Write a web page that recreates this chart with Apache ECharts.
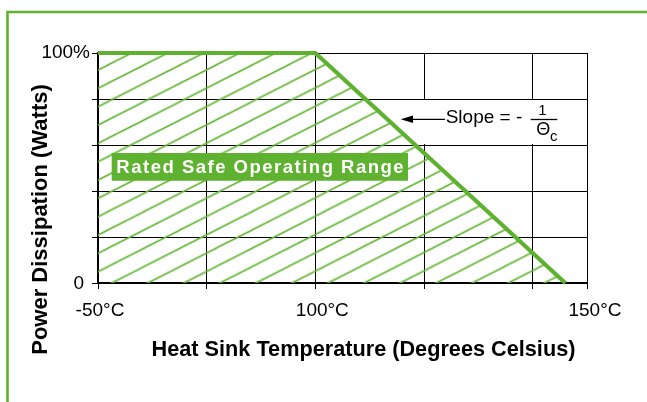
<!DOCTYPE html>
<html><head><meta charset="utf-8">
<script src="https://cdn.jsdelivr.net/npm/echarts@6/dist/echarts.min.js"></script>
<style>html,body{margin:0;padding:0;background:#fff}#c{width:647px;height:402px}</style>
</head><body><div id="c"></div>
<script>
// ---- data ----
const temperatures = [-50, 100, 146];      // °C (heat sink temperature)
const powerPct = [100, 100, 0];            // % of rated power dissipation
const xTickTemps = [-50, 100, 150];
const xTickLabels = ['-50°C', '100°C', '150°C'];
const yTickValues = [0, 100];
const yTickLabels = ['0', '100%'];
const xTitle = 'Heat Sink Temperature (Degrees Celsius)';
const yTitle = 'Power Dissipation (Watts)';
const regionLabel = 'Rated Safe Operating Range';
const slopeText = 'Slope = -';

// the original chart uses a broken temperature scale:
// 75°C per grid cell below 100°C, 20°C per grid cell above it
function tempToPos(t) { return t <= 100 ? (t + 50) / 75 : 2 + (t - 100) / 20; }

const GREEN = '#5fb130';
const HATCH = '#64b636';
const FONT = '"Liberation Sans", Arial, sans-serif';

// slight tracking for the region label, as in the original artwork
const origFillText = CanvasRenderingContext2D.prototype.fillText;
CanvasRenderingContext2D.prototype.fillText = function (t, x, y, w) {
  if (t === regionLabel && 'letterSpacing' in this) {
    const prev = this.letterSpacing;
    this.letterSpacing = '1.5px';
    const r = w === undefined ? origFillText.call(this, t, x + 0.75, y) : origFillText.call(this, t, x + 0.75, y, w);
    this.letterSpacing = prev;
    return r;
  }
  return origFillText.apply(this, arguments);
};

// hatch tile
const tile = document.createElement('canvas');
tile.width = 36; tile.height = 18;
const g = tile.getContext('2d');
g.strokeStyle = HATCH; g.lineWidth = 1.6;
for (let k = -1; k <= 2; k++) {
  g.beginPath(); g.moveTo(-36, 36 + 18 * k); g.lineTo(72, -18 + 18 * k); g.stroke();
}

const xPadStyles = ['xa', 'xb', 'xc'];

const chart = echarts.init(document.getElementById('c'), null, {renderer: 'canvas'});
chart.setOption({
  animation: false,
  backgroundColor: '#fff',
  grid: {left: 98, right: 60, top: 53, bottom: 119},
  xAxis: {
    type: 'value', min: 0, max: tempToPos(150), interval: 1,
    axisLine: {show: true, lineStyle: {color: '#000', width: 2}},
    axisTick: {show: true, length: 6, lineStyle: {color: '#000', width: 1}},
    splitLine: {show: true, lineStyle: {color: '#000', width: 1}},
    axisLabel: {
      margin: 18, color: '#000', fontFamily: FONT, fontSize: 19,
      formatter: function (v) {
        for (let i = 0; i < xTickTemps.length; i++) {
          if (Math.abs(tempToPos(xTickTemps[i]) - v) < 1e-6) return '{' + xPadStyles[i] + '|' + xTickLabels[i] + '}';
        }
        return '';
      },
      rich: {
        xa: {padding: [0, 0, 0, 4], fontSize: 19, fontFamily: FONT, color: '#000'},
        xb: {padding: [0, 0, 0, 14], fontSize: 19, fontFamily: FONT, color: '#000'},
        xc: {padding: [0, 0, 0, 16], fontSize: 19, fontFamily: FONT, color: '#000'}
      }
    }
  },
  yAxis: {
    type: 'value', min: 0, max: 100, interval: 20,
    axisLine: {show: true, lineStyle: {color: '#000', width: 2}},
    axisTick: {show: true, length: 6, lineStyle: {color: '#000', width: 1}},
    splitLine: {show: true, lineStyle: {color: '#000', width: 1}},
    axisLabel: {
      margin: 8, color: '#000', fontFamily: FONT, fontSize: 19,
      formatter: function (v) {
        const i = yTickValues.indexOf(v);
        if (i < 0) return '';
        return i === 0 ? '{z|' + yTickLabels[i] + '}' : yTickLabels[i];
      },
      rich: {z: {padding: [2, 6, 0, 0], fontSize: 19, fontFamily: FONT, color: '#000'}}
    }
  },
  series: [{
    type: 'line',
    data: temperatures.map((t, i) => [tempToPos(t), powerPct[i]]),
    symbol: 'none', clip: false, z: 3,
    lineStyle: {color: GREEN, width: 4.2},
    areaStyle: {
      opacity: 1,
      color: {image: tile, repeat: 'repeat', x: 0, y: 9.88, scaleX: 1.0011, scaleY: 1.0183}
    }
  }],
  graphic: [
    // outer frame (left and top)
    {type: 'polyline', z: 10, shape: {points: [[7.5, 402], [7.5, 12], [647, 12]]},
     style: {stroke: GREEN, lineWidth: 2.6, fill: null}},
    // white backing of the slope annotation
    {type: 'rect', z: 1, shape: {x: 395, y: 100, width: 191, height: 44}, style: {fill: '#fff'}},
    // arrow
    {type: 'line', z: 10, shape: {x1: 445, y1: 119.3, x2: 410, y2: 119.3}, style: {stroke: '#000', lineWidth: 1.3}},
    {type: 'polygon', z: 10, shape: {points: [[400.7, 119.3], [413, 115.6], [413, 123]]}, style: {fill: '#000'}},
    {type: 'text', z: 10, x: 445.7, y: 117.5,
     style: {text: slopeText, font: '19px ' + FONT, fill: '#000', align: 'left', verticalAlign: 'middle'}},
    {type: 'text', z: 10, x: 542.5, y: 110.5,
     style: {text: '1', font: '15px ' + FONT, fill: '#000', align: 'center', verticalAlign: 'middle'}},
    {type: 'line', z: 10, shape: {x1: 530.7, y1: 119.5, x2: 557.3, y2: 119.5}, style: {stroke: '#000', lineWidth: 1.3}},
    {type: 'text', z: 10, x: 543.3, y: 130.5,
     style: {text: 'Θ', font: '18px ' + FONT, fill: '#000', align: 'center', verticalAlign: 'middle'}},
    {type: 'text', z: 10, x: 550, y: 136.5,
     style: {text: 'c', font: '15px ' + FONT, fill: '#000', align: 'left', verticalAlign: 'middle'}},
    // region label
    {type: 'rect', z: 10, shape: {x: 111.7, y: 153, width: 296.3, height: 27.7}, style: {fill: GREEN}},
    {type: 'text', z: 11, x: 260, y: 167.5,
     style: {text: regionLabel, font: 'bold 18.5px ' + FONT, fill: '#fff', align: 'center', verticalAlign: 'middle'}},
    // axis titles
    {type: 'text', z: 10, x: 363.5, y: 350,
     style: {text: xTitle, font: 'bold 21.7px ' + FONT, fill: '#000', align: 'center', verticalAlign: 'middle'}},
    {type: 'text', z: 10, x: 41, y: 219.5, rotation: Math.PI / 2,
     style: {text: yTitle, font: 'bold 22px ' + FONT, fill: '#000', align: 'center', verticalAlign: 'middle'}}
  ]
});
</script>
</body></html>
